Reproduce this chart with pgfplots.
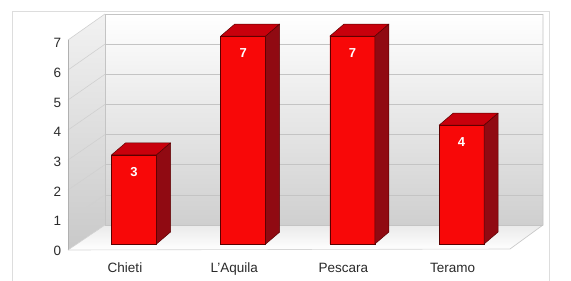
\documentclass[border=0pt]{standalone}
\usepackage{pgfplots}
\usepackage{pgfplotstable}
\pgfplotsset{compat=1.18}
\usepackage{fontspec}
\setmainfont{Liberation Sans}
\definecolor{barfront}{HTML}{F80808}
\definecolor{bartop}{HTML}{C8000C}
\definecolor{barside}{HTML}{900A12}
\definecolor{barline}{HTML}{5A0000}
\definecolor{gridc}{HTML}{C4C4C4}
\definecolor{framec}{HTML}{DDDDDD}
\definecolor{labelc}{HTML}{2A2A2A}
\definecolor{wallbot}{HTML}{CFCFCF}
\definecolor{wallmid}{HTML}{EDEDED}
\definecolor{sidewalltop}{HTML}{F2F2F2}
\definecolor{sidewallbot}{HTML}{C9C9C9}
\definecolor{floorc}{HTML}{EAEAEA}
\pgfplotstableread{
x v
0 3
1 7
2 7
3 4
}\datatable
\begin{document}
\begin{tikzpicture}
\begin{scope}[x=1pt,y=1pt]
\path[use as bounding box] (0,0) rectangle (571,-281);
\fill[white] (0,0) rectangle (571,-281);
% outer frame
\draw[framec, line width=0.8pt] (12.5,-290) -- (12.5,-11.5) -- (549,-11.5) -- (549,-290);
% back wall
\shade[top color=white, middle color=wallmid, bottom color=wallbot] (105,-14) rectangle (543,-225);
% left wall
\shade[top color=sidewalltop, bottom color=sidewallbot] (68,-40) -- (105,-14) -- (105,-225) -- (68,-250) -- cycle;
% floor
\shade[top color=floorc, bottom color=white] (68,-250) -- (105,-225) -- (543,-225) -- (510,-249) -- cycle;
% gridlines
\foreach \k in {0,...,7}{
  \draw[gridc, line width=0.7pt] (105,{-225+30.15*\k}) -- (543,{-225+30.15*\k});
  \draw[gridc!80, line width=0.6pt] (68,{-250+30*\k}) -- (105,{-225+30.15*\k});
}
\draw[gridc!90!black, line width=0.6pt] (68,-40) -- (68,-250);
\draw[gridc, line width=0.6pt] (105,-14) -- (105,-225);
\draw[gridc, line width=0.6pt] (543,-14) -- (543,-225) -- (510,-249);
\draw[gridc!70, line width=0.6pt] (68,-250) -- (510,-249);
\end{scope}
\begin{axis}[
  at={(79.4pt,-244pt)}, anchor=south west,
  x=109.2pt, y=29.7pt,
  xmin=-0.5, xmax=3.5, ymin=0, ymax=7,
  axis line style={draw=none},
  major tick length=0pt,
  xtick={0,1,2,3}, xticklabels={Chieti, L'Aquila, Pescara, Teramo},
  ytick={0,1,2,3,4,5,6,7},
  tick label style={font=\fontsize{13.5}{16}\selectfont, text=labelc},
  yticklabel style={anchor=east, inner sep=0pt, xshift=-18pt, yshift=-7pt},
  xticklabel style={anchor=base, inner sep=0pt, yshift=-28pt, xshift=-9pt},
  /pgf/number format/assume math mode=true,
  clip=false,
]
\addplot[ybar, bar width=45pt, fill=barfront, draw=barline, line width=0.5pt,
  nodes near coords,
  every node near coord/.append style={anchor=center, yshift=-17pt, text=white,
    font=\bfseries\fontsize{13}{15}\selectfont, /pgf/number format/assume math mode=true}]
  table[x=x,y=v] {\datatable};
\addplot[scatter, only marks, mark=*, mark size=0pt,
  visualization depends on={\thisrow{v} \as \val},
  scatter/@pre marker code/.code={%
    \pgfmathsetmacro\Hb{12-\val*29.7}%
    \pgfmathsetmacro\Hf{-\val*29.7}%
    \filldraw[fill=bartop, draw=barline, line width=0.5pt, line join=round]
      (-22.5pt,0pt) -- (-8.5pt,12pt) -- (36.5pt,12pt) -- (22.5pt,0pt) -- cycle;
    \filldraw[fill=barside, draw=barline, line width=0.5pt, line join=round]
      (22.5pt,0pt) -- (36.5pt,12pt) -- (36.5pt,\Hb pt) -- (22.5pt,\Hf pt) -- cycle;
  },
  scatter/@post marker code/.code={}
] table[x=x,y=v] {\datatable};
\end{axis}
\end{tikzpicture}
\end{document}
